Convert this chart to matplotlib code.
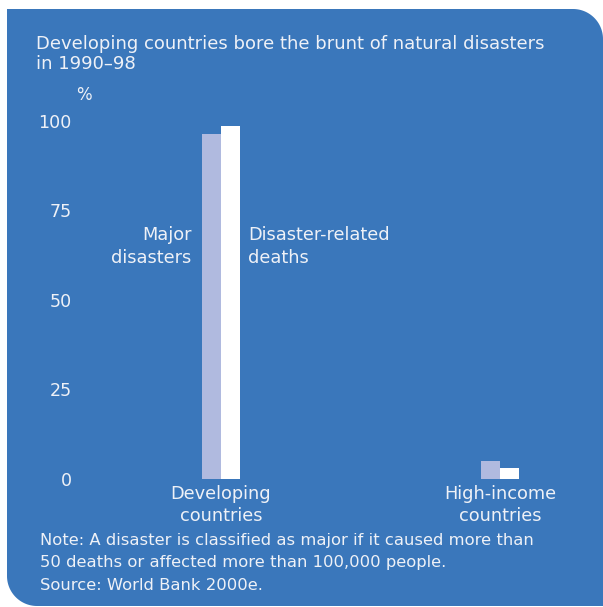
import numpy as np
import matplotlib
matplotlib.use('Agg')
from matplotlib import pyplot as plt
from matplotlib.patches import Polygon

groups = ['Developing\ncountries', 'High-income\ncountries']
major_disasters = [96.5, 5.0]
disaster_deaths = [98.7, 3.2]
yticks = [0, 25, 50, 75, 100]

BLUE = '#3a77bb'
LIGHT = '#b0badf'
TEXT = '#eef1f7'
W, H = 603, 607
FS = 12.8

plt.rcParams['font.family'] = ['DejaVu Sans']

fig = plt.figure(figsize=(W / 100, H / 100), dpi=100, facecolor='white')

# background panel in pixel units, rounded top-right and bottom-left corners
bg = fig.add_axes([0, 0, 1, 1])
bg.set_xlim(0, W)
bg.set_ylim(H, 0)
bg.axis('off')


def corner(cx, cy, r, a0, a1):
    t = np.radians(np.linspace(a0, a1, 30))
    return np.column_stack([cx + r * np.cos(t), cy - r * np.sin(t)])


left, top, right, bottom = 7, 9, 603, 606
r = 30
pts = np.vstack([
    [[left, top]],
    corner(right - r, top + r, r, 90, 0),
    [[right, bottom]],
    corner(left + r, bottom - r, r, 270, 180),
])
bg.add_patch(Polygon(pts, closed=True, facecolor=BLUE, edgecolor='none'))

bg.text(36, 54, 'Developing countries bore the brunt of natural disasters\nin 1990\u201398',
        color=TEXT, fontsize=13.0, va='center', ha='left', linespacing=1.2)
bg.text(84, 95, '%', color=TEXT, fontsize=12, ha='center', va='center')
bg.text(40, 563, 'Note: A disaster is classified as major if it caused more than\n'
        '50 deaths or affected more than 100,000 people.\nSource: World Bank 2000e.',
        color=TEXT, fontsize=11.8, va='center', ha='left', linespacing=1.65)

ax = fig.add_axes([80 / W, (H - 479) / H, 500 / W, 358 / H])
ax.set_facecolor('none')
ax.set_xlim(-0.505, 1.287)
ax.set_ylim(0, 100)
for s in ax.spines.values():
    s.set_visible(False)

x = np.arange(len(groups))
bw = 0.068
ax.bar(x - bw / 2, major_disasters, bw, color=LIGHT)
ax.bar(x + bw / 2, disaster_deaths, bw, color='white')

ax.set_yticks(yticks)
ax.set_yticklabels([str(v) for v in yticks])
ax.tick_params(axis='y', length=0, pad=6, labelcolor=TEXT, labelsize=12.6)
ax.set_xticks(x)
ax.set_xticklabels(groups, linespacing=1.3)
ax.tick_params(axis='x', length=0, pad=4, labelcolor=TEXT, labelsize=FS)

ax.text(-0.105, 65.0, 'Major\ndisasters', color=TEXT, fontsize=FS,
        ha='right', va='center', linespacing=1.35)
ax.text(0.097, 65.0, 'Disaster-related\ndeaths', color=TEXT, fontsize=FS,
        ha='left', va='center', linespacing=1.35)

fig.savefig('out.png', dpi=100, facecolor='white')
